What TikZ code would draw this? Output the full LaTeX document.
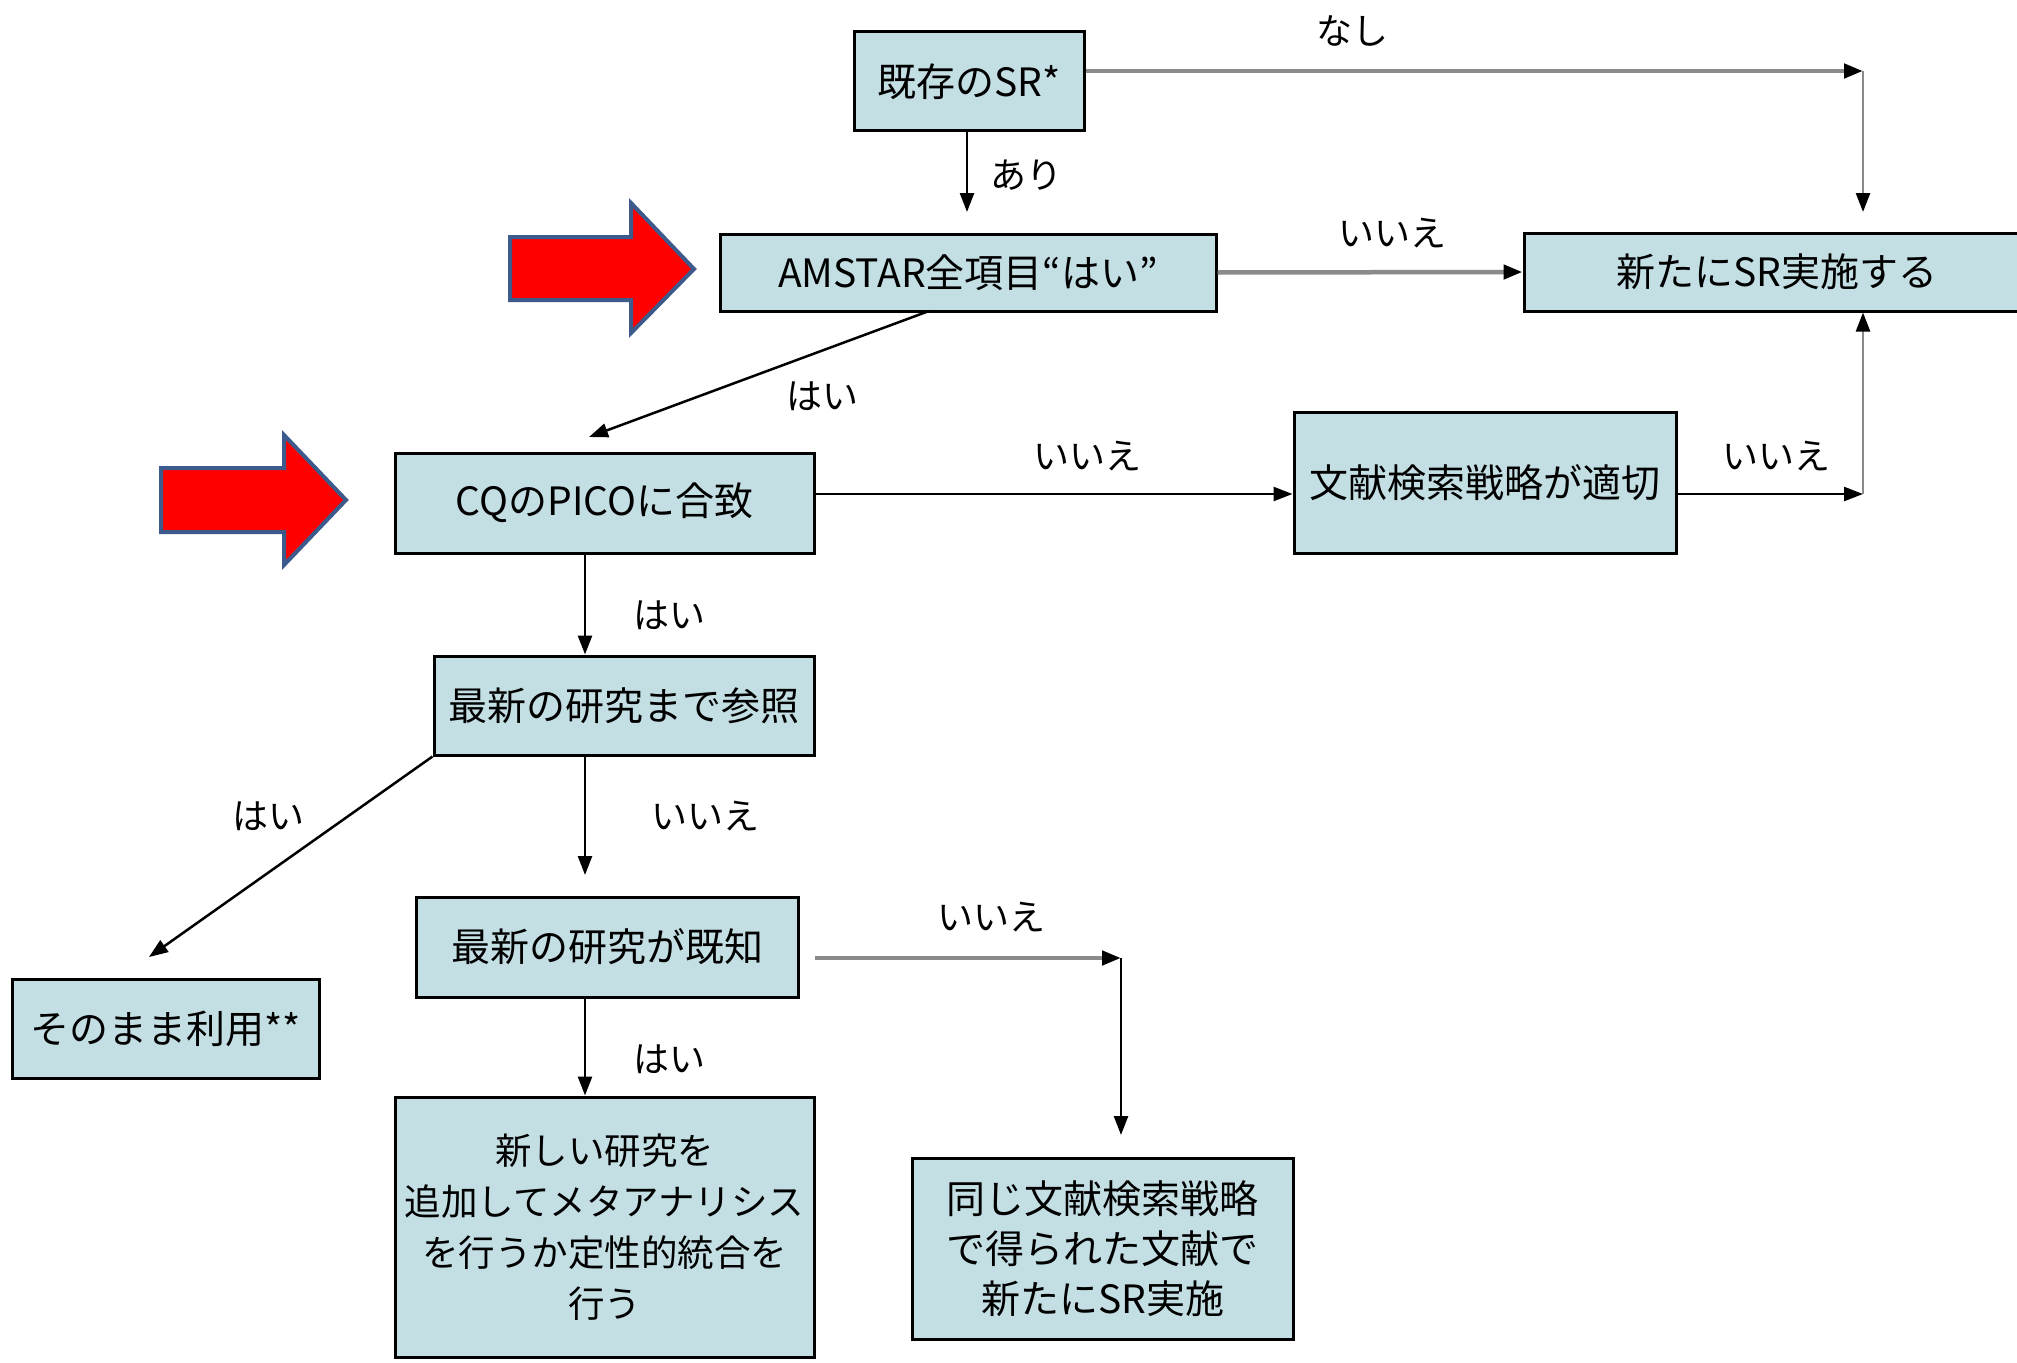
\documentclass[tikz,border=0pt]{standalone}
\usepackage{fontspec}
\newfontfamily\jp{Noto Sans CJK JP}
\usetikzlibrary{arrows.meta}
\definecolor{boxfill}{RGB}{195,223,228}
\definecolor{linegray}{RGB}{138,138,138}
\definecolor{arrowedge}{RGB}{60,90,140}
\begin{document}
\begin{tikzpicture}[x=1pt,y=-1pt,
  box/.style={draw=black,line width=3pt,fill=boxfill,inner sep=0pt,align=center,
    font=\jp\fontsize{39}{50}\selectfont},
  lbl/.style={inner sep=0pt,font=\jp\fontsize{36}{44}\selectfont},
  arr/.style={draw=black,line width=2.5pt,-{Triangle[length=19pt,width=14pt,color=black]}},
  garr/.style={arr,draw=linegray,line width=4.5pt},
  tarr/.style={arr,draw=linegray,line width=2.5pt},
  bigarrow/.style={fill=red,draw=arrowedge,line width=4pt,line join=miter}]
\clip (0,0) rectangle (2017,1362);
\fill[white] (0,0) rectangle (2017,1362);

% red arrows
\draw[bigarrow] (510,237) -- (631,237) -- (631,203) -- (694,269) -- (631,333) -- (631,300) -- (510,300) -- cycle;
\draw[bigarrow] (161,468) -- (284,468) -- (284,435) -- (346,500) -- (284,565) -- (284,532) -- (161,532) -- cycle;

% boxes
\node[box,minimum width=230pt,minimum height=99pt] (sr) at (969,81.5) {既存のSR*};
\node[box,minimum width=496pt,minimum height=77pt] (amstar) at (968,272.5) {AMSTAR全項目“はい”};
\node[box,minimum width=506pt,minimum height=78pt] (newsr) at (1777,272) {新たにSR実施する};
\node[box,minimum width=419pt,minimum height=100pt] (cq) at (604.5,503) {CQのPICOに合致};
\node[box,minimum width=382pt,minimum height=141pt] (bunken) at (1485,482.5) {文献検索戦略が適切};
\node[box,minimum width=380pt,minimum height=99pt] (saishin) at (624,705.5) {最新の研究まで参照};
\node[box,minimum width=382pt,minimum height=100pt] (kichi) at (607,947) {最新の研究が既知};
\node[box,minimum width=307pt,minimum height=99pt] (sono) at (165.5,1028.5) {そのまま利用**};
\node[box,minimum width=419pt,minimum height=260pt,font=\jp\fontsize{36.5}{51}\selectfont] (atarashii) at (604.5,1227)
  {新しい研究を\\追加してメタアナリシス\\を行うか定性的統合を\\行う};
\node[box,minimum width=381pt,minimum height=181pt] (onaji) at (1102.5,1248.5)
  {同じ文献検索戦略\\で得られた文献で\\新たにSR実施};

% helper coordinates
\coordinate (c1) at (1863,71);
\coordinate (c2) at (1863,494);
\coordinate (c3) at (1121,958);
\coordinate (amstarTop) at (967,212);
\coordinate (cqTop) at (589,437);
\coordinate (sonoTop) at (149,957);
\coordinate (kichiTop) at (585,875);
\coordinate (newsrTop) at (1863,212);
\coordinate (onajiTop) at (1121,1135);
\coordinate (amstarOut) at (929,311);
\coordinate (kichiOut) at (815,958);

% connectors
\draw[garr] (sr.east |- c1) -- (c1);
\draw[tarr] (c1) -- (newsrTop);
\draw[arr] (sr.south -| amstarTop) -- (amstarTop);
\draw[garr] (amstar.east) -- (newsr.west);
\draw[arr] (amstarOut) -- (cqTop);
\draw[arr] (cq.east |- c2) -- (bunken.west |- c2);
\draw[arr] (bunken.east |- c2) -- (c2);
\draw[tarr] (c2) -- (c2 |- newsr.south);
\draw[arr] (cq.south -| kichiTop) -- (saishin.north -| kichiTop);
\draw[arr] (saishin.south -| kichiTop) -- (kichiTop);
\draw[arr] (saishin.south west) -- (sonoTop);
\draw[arr] (kichi.south -| kichiTop) -- (atarashii.north -| kichiTop);
\draw[garr] (kichiOut) -- (c3);
\draw[arr] (c3) -- (onajiTop);

% labels
\node[lbl] (l1) at (1352,31) {なし};
\node[lbl] (l2) at (1026,175) {あり};
\node[lbl] (l3) at (1392,233) {いいえ};
\node[lbl] (l4) at (822,396) {はい};
\node[lbl] (l5) at (1087,456) {いいえ};
\node[lbl] (l6) at (1776,456) {いいえ};
\node[lbl] (l7) at (669,615) {はい};
\node[lbl] (l8) at (705,816) {いいえ};
\node[lbl] (l9) at (268,816) {はい};
\node[lbl] (l10) at (669,1059) {はい};
\node[lbl] (l11) at (991,917) {いいえ};
\end{tikzpicture}
\end{document}
